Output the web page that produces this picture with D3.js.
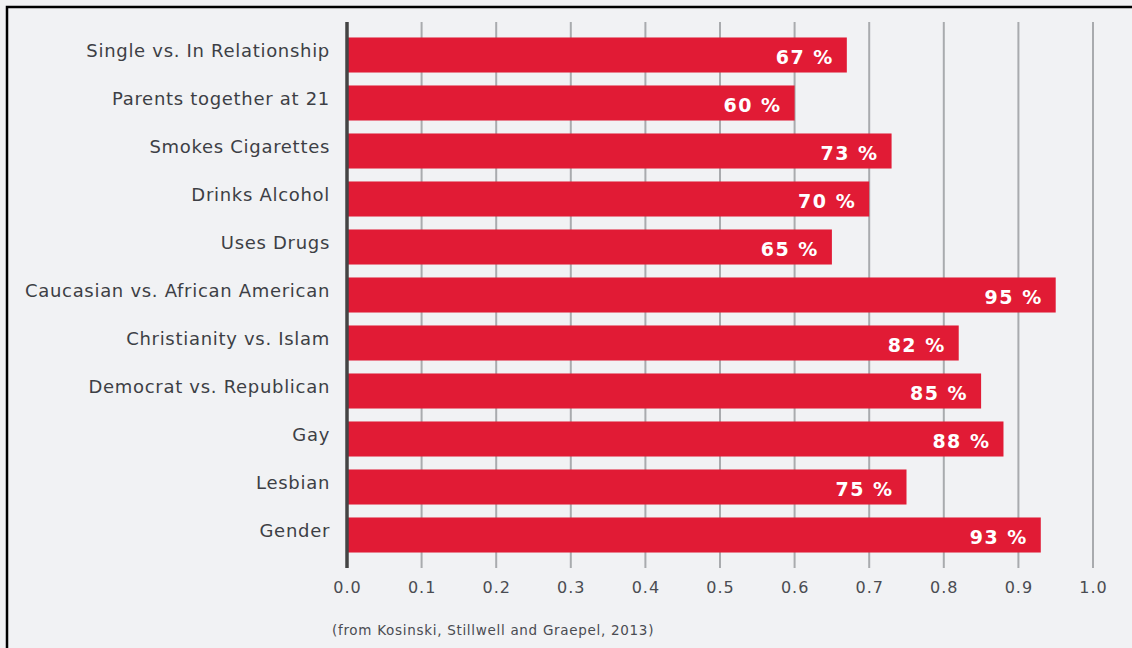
<!DOCTYPE html>
<html>
<head>
<meta charset="utf-8">
<script src="https://cdn.jsdelivr.net/npm/d3@7"></script>
<style>
  html, body { margin: 0; padding: 0; background: #fff; }
  #chart { width: 1132px; height: 648px; }
</style>
</head>
<body>
<div id="chart"></div>
<script>
const categories = [
  "Single vs. In Relationship",
  "Parents together at 21",
  "Smokes Cigarettes",
  "Drinks Alcohol",
  "Uses Drugs",
  "Caucasian vs. African American",
  "Christianity vs. Islam",
  "Democrat vs. Republican",
  "Gay",
  "Lesbian",
  "Gender",
];
const accuracy = [0.67, 0.60, 0.73, 0.70, 0.65, 0.95, 0.82, 0.85, 0.88, 0.75, 0.93];
const xTicks = [0, 0.1, 0.2, 0.3, 0.4, 0.5, 0.6, 0.7, 0.8, 0.9, 1.0];
const caption = "(from Kosinski, Stillwell and Graepel, 2013)";

const data = categories.map((label, i) => ({ label, value: accuracy[i] }));

const width = 1132;
const height = 648;
const font = "'DejaVu Sans', Verdana, sans-serif";
const barColor = "#e11b35";

const x = d3.scaleLinear().domain([0, 1]).range([347, 1093]);
const y = d3.scaleBand()
  .domain(categories)
  .range([31, 559])
  .paddingInner(0.27)
  .paddingOuter(0.135);

const svg = d3.select("#chart")
  .append("svg")
  .attr("width", width)
  .attr("height", height)
  .attr("viewBox", [0, 0, width, height]);

// panel background + frame (top and left edges visible)
svg.append("rect")
  .attr("x", 0).attr("y", 0)
  .attr("width", width).attr("height", height)
  .attr("fill", "#f1f2f4");
svg.append("path")
  .attr("d", `M7,${height} V7 H${width}`)
  .attr("fill", "none")
  .attr("stroke", "#000")
  .attr("stroke-width", 2.5);

// vertical gridlines
svg.append("g")
  .selectAll("line")
  .data(xTicks.slice(1))
  .join("line")
  .attr("x1", (d) => x(d))
  .attr("x2", (d) => x(d))
  .attr("y1", 22)
  .attr("y2", 568)
  .attr("stroke", "#a9abae")
  .attr("stroke-width", 2);

// bars
svg.append("g")
  .selectAll("rect")
  .data(data)
  .join("rect")
  .attr("x", x(0))
  .attr("y", (d) => y(d.label))
  .attr("width", (d) => x(d.value) - x(0))
  .attr("height", y.bandwidth())
  .attr("fill", barColor);

// value labels inside bars
svg.append("g")
  .selectAll("text")
  .data(data)
  .join("text")
  .attr("x", (d) => x(d.value) - 13)
  .attr("y", (d) => y(d.label) + y.bandwidth() / 2 + 2)
  .attr("dy", "0.36em")
  .attr("text-anchor", "end")
  .attr("fill", "#fff")
  .attr("font-size", "19px")
  .attr("font-weight", "700")
  .attr("font-family", font)
  .attr("letter-spacing", "1.5px")
  .text((d) => `${Math.round(d.value * 100)} %`);

// zero axis line
svg.append("line")
  .attr("x1", x(0)).attr("x2", x(0))
  .attr("y1", 22).attr("y2", 568)
  .attr("stroke", "#444")
  .attr("stroke-width", 3.5);

// category labels
svg.append("g")
  .attr("transform", "translate(330,-4)")
  .call(d3.axisLeft(y).tickSize(0).tickPadding(0))
  .call((g) => g.select(".domain").remove())
  .call((g) => g.selectAll(".tick text")
    .attr("fill", "#3d3f45")
    .attr("font-size", "18px")
    .attr("letter-spacing", "0.7px")
    .attr("font-family", font));

// x tick labels
svg.append("g")
  .attr("transform", "translate(0,576)")
  .call(d3.axisBottom(x).tickValues(xTicks).tickSize(0).tickPadding(6)
    .tickFormat(d3.format(".1f")))
  .call((g) => g.select(".domain").remove())
  .call((g) => g.selectAll(".tick text")
    .attr("fill", "#4a4c52")
    .attr("font-size", "16px")
    .attr("letter-spacing", "1px")
    .attr("font-family", font));

// source caption
svg.append("text")
  .attr("x", 332)
  .attr("y", 635)
  .attr("fill", "#4a4c52")
  .attr("font-size", "13.5px")
  .attr("letter-spacing", "0.7px")
  .attr("font-family", font)
  .text(caption);
</script>
</body>
</html>
